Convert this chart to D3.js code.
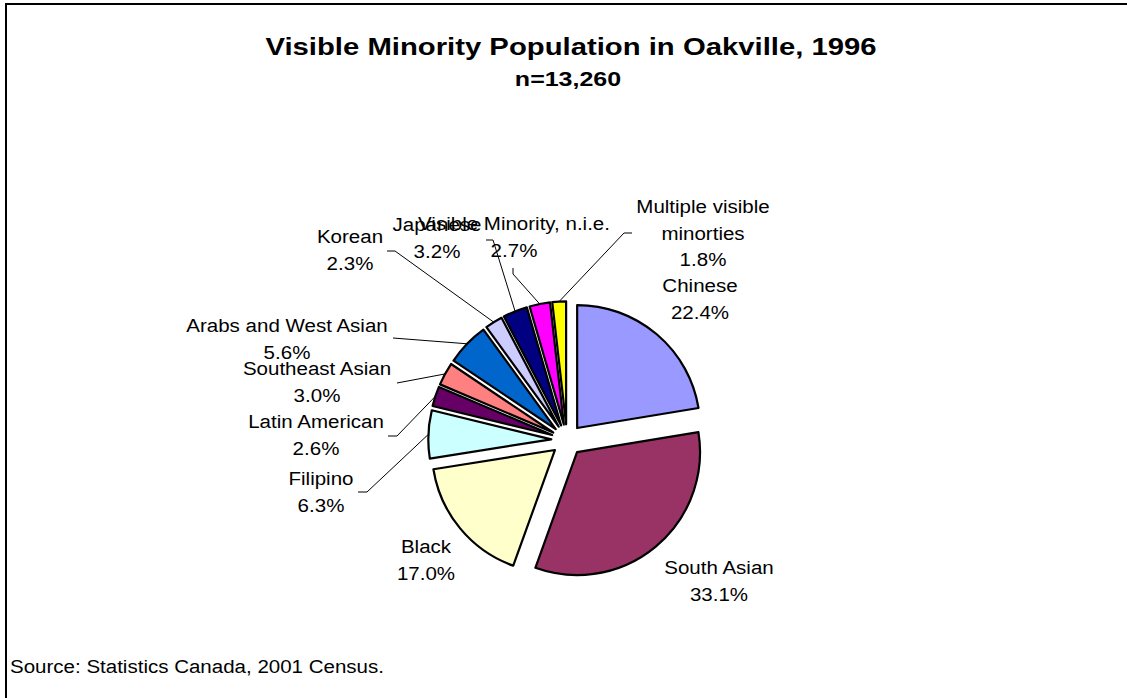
<!DOCTYPE html>
<html>
<head>
<meta charset="utf-8">
<script src="https://cdn.jsdelivr.net/npm/d3@7"></script>
<style>
  html, body { margin: 0; padding: 0; background: #fff; }
  svg { display: block; }
  text { font-family: "Liberation Sans", Arial, sans-serif; fill: #000; }
</style>
</head>
<body>
<svg id="chart" width="1127" height="698"></svg>
<script>
// ---- Data ----
const categories = ["Chinese", "South Asian", "Black", "Filipino", "Latin American",
  "Southeast Asian", "Arabs and West Asian", "Korean", "Japanese",
  "Visible Minority, n.i.e.", "Multiple visible minorties"];
const shares = [22.4, 33.1, 17.0, 6.3, 2.6, 3.0, 5.6, 2.3, 3.2, 2.7, 1.8];
const colors = ["#9999FF", "#993366", "#FFFFCC", "#CCFFFF", "#660066",
  "#FF8080", "#0066CC", "#CCCCFF", "#000080", "#FF00FF", "#FFFF00"];
const titleText = "Visible Minority Population in Oakville, 1996";
const subtitleText = "n=13,260";
const sourceText = "Source: Statistics Canada, 2001 Census.";

// ---- Layout (label placement) ----
const labelLayout = [
  { lines: ["Chinese"], cx: 700, y: 292, leader: null },
  { lines: ["South Asian"], cx: 719, y: 574, leader: null },
  { lines: ["Black"], cx: 426, y: 553, leader: null },
  { lines: ["Filipino"], cx: 321, y: 485, leader: [[358, 492], [367, 492]] },
  { lines: ["Latin American"], cx: 316, y: 428, leader: [[388, 436], [397, 436]] },
  { lines: ["Southeast Asian"], cx: 317, y: 375, leader: [[397, 383]] },
  { lines: ["Arabs and West Asian"], cx: 287, y: 332, leader: [[393, 338]] },
  { lines: ["Korean"], cx: 350, y: 243, leader: [[387, 251], [395, 251]] },
  { lines: ["Japanese"], cx: 437, y: 231, leader: [[486, 240], [493, 240]] },
  { lines: ["Visible Minority, n.i.e."], cx: 514, y: 230, leader: [[513, 268], [513, 274]] },
  { lines: ["Multiple visible", "minorties"], cx: 703, y: 213, leader: [[632, 233], [624, 233]] }
];

const W = 1127, H = 698;
const cx = 567, cy = 440, R = 123, explode = 15.7;
const lineH = 26.5;
const labelFont = 19, labelStretch = 1.08;

const svg = d3.select("#chart");

// frame
svg.append("rect").attr("x", 6).attr("y", 4).attr("width", W + 20).attr("height", H + 20)
  .attr("fill", "none").attr("stroke", "#000").attr("stroke-width", 2);

// titles
svg.append("text")
  .attr("transform", `translate(571,55) scale(1.22,1)`)
  .attr("text-anchor", "middle").attr("font-weight", "bold").attr("font-size", 24)
  .text(titleText);
svg.append("text")
  .attr("transform", `translate(568,86) scale(1.25,1)`)
  .attr("text-anchor", "middle").attr("font-weight", "bold").attr("font-size", 20)
  .text(subtitleText);

// pie
const pie = d3.pie().sort(null).value(d => d).startAngle(0).endAngle(2 * Math.PI);
const arcs = pie(shares);
const arc = d3.arc().innerRadius(0).outerRadius(R);

const g = svg.append("g").attr("transform", `translate(${cx},${cy})`);
g.selectAll("path.slice").data(arcs).enter().append("path")
  .attr("class", "slice")
  .attr("transform", d => {
    const a = (d.startAngle + d.endAngle) / 2;
    return `translate(${explode * Math.sin(a)},${-explode * Math.cos(a)})`;
  })
  .attr("d", arc)
  .attr("fill", (d, i) => colors[i])
  .attr("stroke", "#000")
  .attr("stroke-width", 2.2)
  .attr("stroke-linejoin", "round");

// labels
const fmt = d3.format(".1f");
arcs.forEach((d, i) => {
  const L = labelLayout[i];
  const lines = L.lines.concat([fmt(shares[i]) + "%"]);
  lines.forEach((t, k) => {
    svg.append("text")
      .attr("transform", `translate(${L.cx},${L.y + k * lineH}) scale(${labelStretch},1)`)
      .attr("text-anchor", "middle")
      .attr("font-size", labelFont)
      .text(t);
  });
  if (L.leader) {
    const a = (d.startAngle + d.endAngle) / 2;
    const ex = cx + (explode + R) * Math.sin(a);
    const ey = cy - (explode + R) * Math.cos(a);
    const pts = L.leader.concat([[ex, ey]]);
    svg.append("path")
      .attr("d", d3.line()(pts))
      .attr("fill", "none").attr("stroke", "#000").attr("stroke-width", 1);
  }
});

// source
svg.append("text")
  .attr("transform", `translate(10,673) scale(${labelStretch},1)`)
  .attr("font-size", labelFont)
  .text(sourceText);
</script>
</body>
</html>
